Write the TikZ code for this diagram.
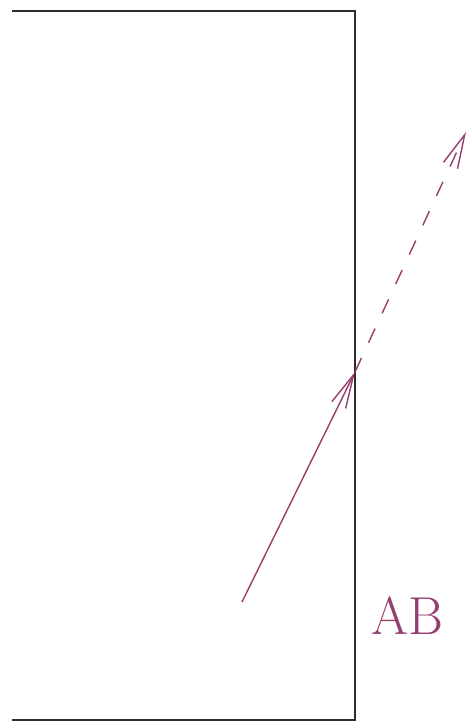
\documentclass[tikz,border=0pt]{standalone}
\usetikzlibrary{arrows.meta}
\definecolor{raycol}{RGB}{150,62,112}
\definecolor{wallcol}{RGB}{45,45,45}
\begin{document}
\begin{tikzpicture}[x=1.0cm,y=1.0cm,>={Straight Barb[length=24pt,width=11pt]}]
  \useasboundingbox (0,0) rectangle (11.8,18.2);
  % wall
  \draw[wallcol,line width=2pt] (0.3,17.925) -- (8.875,17.925) -- (8.875,0.2) -- (0.3,0.2);
  % ray
  \coordinate (src) at (6.05,3.15);
  \coordinate (hit) at (8.875,8.9);
  \coordinate (out) at (11.65,14.9);
  \draw[raycol,line width=1pt,->] (src) -- (hit);
  \draw[raycol,line width=1pt,dash pattern=on 11pt off 12pt,->] (hit) -- (out);
  \node[raycol,font=\fontsize{38}{38}\selectfont] (lbl) at (10.19,2.8) {AB};
\end{tikzpicture}
\end{document}
